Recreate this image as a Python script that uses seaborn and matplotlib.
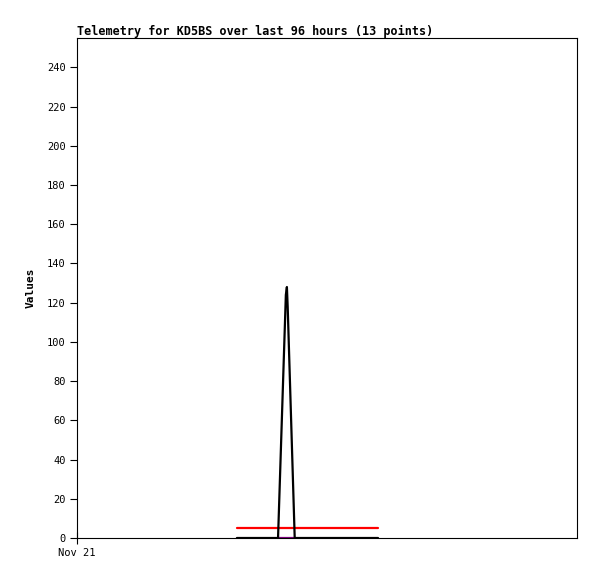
import pandas as pd
import seaborn as sns
import matplotlib.pyplot as plt

# hours since Nov 21 00:00, 96 hour window
hours = [30.7, 33.0, 35.0, 37.0, 38.6, 40.1, 40.3, 40.45, 41.8, 45.0, 50.0, 54.0, 57.8]
values = [0, 0, 0, 0, 0, 124, 128, 118, 0, 0, 0, 0, 0]
limit_hours = [30.7, 57.8]
limit_values = [5, 5]
base_hours = [38.6, 41.8]
base_values = [0, 0]

tick_pos = [0]
tick_labels = ["Nov 21"]
y_ticks = list(range(0, 241, 20))

sns.set_style("white")
plt.rcParams['font.family'] = ['DejaVu Sans Mono', 'DejaVu Sans']
plt.rcParams['text.color'] = 'black'
plt.rcParams['axes.labelcolor'] = 'black'
plt.rcParams['xtick.color'] = 'black'
plt.rcParams['ytick.color'] = 'black'

fig = plt.figure(figsize=(5.97, 5.79), dpi=100)
ax = fig.add_axes([77/597, 41/579, 500/597, 500/579])

df = pd.DataFrame({"hours": hours, "values": values})
df_lim = pd.DataFrame({"hours": limit_hours, "values": limit_values})
df_base = pd.DataFrame({"hours": base_hours, "values": base_values})

sns.lineplot(data=df_lim, x="hours", y="values", color="#ff0000", linewidth=1.6, ax=ax)
sns.lineplot(data=df_base, x="hours", y="values", color="#800080", linewidth=1.6, ax=ax, zorder=1)
sns.lineplot(data=df, x="hours", y="values", color="black", linewidth=1.6, ax=ax, zorder=3)

ax.set_xlim(0, 96)
ax.set_ylim(0, 255)
ax.set_yticks(y_ticks)
ax.set_xticks(tick_pos)
ax.set_xticklabels(tick_labels)
ax.tick_params(axis='y', length=5, width=0.8, labelsize=7.5, direction='out', left=True, pad=3)
ax.tick_params(axis='x', length=8, width=0.8, labelsize=7.5, direction='inout', bottom=True)
for s in ax.spines.values():
    s.set_color("black")
    s.set_linewidth(0.8)

ax.set_xlabel("")
ax.set_ylabel("Values", fontsize=8, fontweight='bold', labelpad=8)
ax.set_title("Telemetry for KD5BS over last 96 hours (13 points)", fontsize=8.45,
             fontweight='bold', loc='left', pad=2)

fig.savefig("out.png", dpi=100)
